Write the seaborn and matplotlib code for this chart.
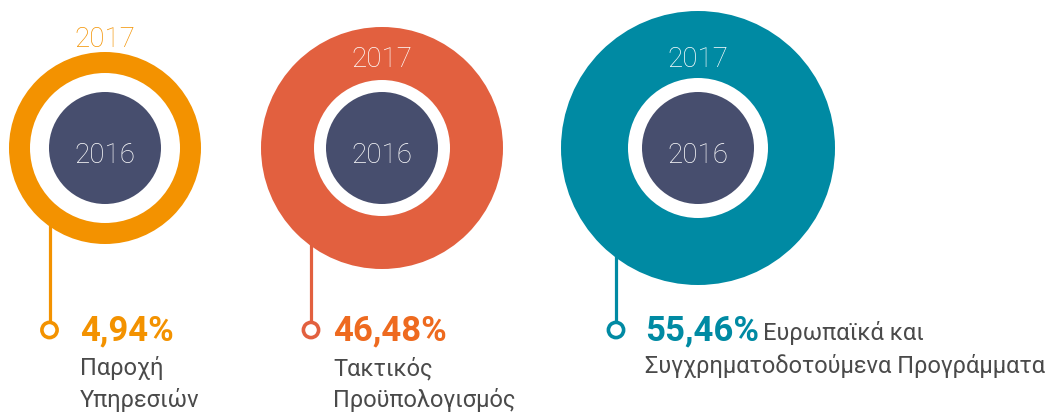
import matplotlib
matplotlib.use("Agg")
import matplotlib.pyplot as plt
from matplotlib.patches import Circle
import pandas as pd
import seaborn as sns

sns.set_style("white")
plt.rcParams['font.family'] = ['Roboto', 'DejaVu Sans']

# data
categories = ["Παροχή\nΥπηρεσιών", "Τακτικός\nΠροϋπολογισμός", "Ευρωπαϊκά και\nΣυγχρηματοδοτούμενα Προγράμματα"]
shares = [4.94, 46.48, 55.46]
outer_year = "2017"
inner_year = "2016"

# layout (pixel units, figure is 1053x413)
centers_x = [105, 382, 698]
center_y = 148
outer_r = [96, 121, 137]
white_r = [75, 68, 70]
inner_r = 56
line_x = [49.5, 311, 616]
marker_y = 330
ring_colors = ["#F39200", "#E2603F", "#008AA3"]
pct_colors = ["#F39200", "#EE6A1F", "#008AA3"]
navy = "#474E6E"
grey = "#4A4A4A"

fig = plt.figure(figsize=(10.53, 4.13), dpi=100)
ax = fig.add_axes([0, 0, 1, 1])
ax.set_xlim(0, 1053)
ax.set_ylim(413, 0)
ax.set_aspect("equal")
ax.axis("off")

df = pd.DataFrame({"x": line_x, "y": [marker_y] * 3, "cat": categories})

for i in range(3):
    cx = centers_x[i]
    c = ring_colors[i]
    # connector line drawn behind the circle
    ax.plot([line_x[i], line_x[i]], [center_y, marker_y], color=c, lw=2.3, zorder=1,
            solid_capstyle="butt")
    ax.add_patch(Circle((cx, center_y), outer_r[i], color=c, zorder=2, lw=0))
    ax.add_patch(Circle((cx, center_y), white_r[i], color="white", zorder=3, lw=0))
    ax.add_patch(Circle((cx, center_y), inner_r, color=navy, zorder=4, lw=0))
    ax.text(cx, 163, inner_year, color="white", fontsize=20, fontweight="light",
            ha="center", va="baseline", zorder=5)
    if i == 0:
        ax.text(cx, 47, outer_year, color=c, fontsize=20, fontweight="light",
                ha="center", va="baseline", zorder=5)
    else:
        ax.text(cx, 67, outer_year, color="white", fontsize=20, fontweight="light",
                ha="center", va="baseline", zorder=5)

sns.scatterplot(data=df, x="x", y="y", hue="cat", palette=ring_colors, s=120,
                facecolor="white", linewidth=2.6, legend=False, ax=ax, zorder=6)
for coll in ax.collections:
    coll.set_facecolor("white")
    coll.set_edgecolors([matplotlib.colors.to_rgba(c) for c in ring_colors])

# percentages and labels
pct_x = [80, 333, 645]
for i in range(3):
    pct = f"{shares[i]:.2f}".replace(".", ",") + "%"
    ax.text(pct_x[i], 340, pct, color=pct_colors[i], fontsize=25, fontweight="bold",
            ha="left", va="baseline", zorder=6)
    lines = categories[i].split("\n")
    if i < 2:
        ax.text(pct_x[i], 375, lines[0], color=grey, fontsize=17, fontweight="normal",
                ha="left", va="baseline")
        ax.text(pct_x[i], 407, lines[1], color=grey, fontsize=17, fontweight="normal",
                ha="left", va="baseline")
    else:
        ax.text(763, 340, lines[0], color=grey, fontsize=17, fontweight="normal",
                ha="left", va="baseline")
        ax.text(pct_x[i], 373, lines[1], color=grey, fontsize=17, fontweight="normal",
                ha="left", va="baseline")

fig.savefig("out.png", dpi=100, facecolor="white")
